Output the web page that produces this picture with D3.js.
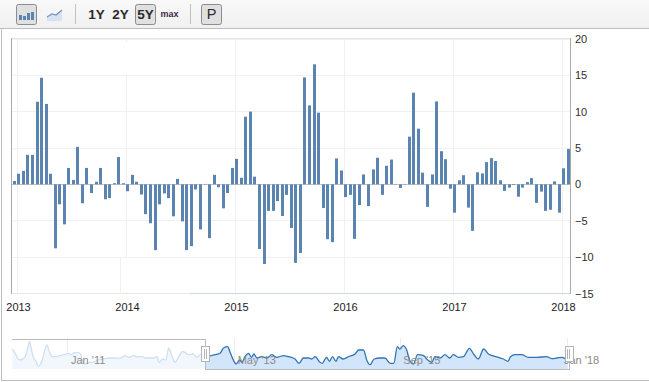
<!DOCTYPE html>
<html><head><meta charset="utf-8">
<script src="https://cdn.jsdelivr.net/npm/d3@7"></script>
<style>
html,body{margin:0;padding:0;background:#fff}
svg{display:block}
text{font-family:"Liberation Sans",Arial,sans-serif}
</style></head><body>
<div id="chart"></div>
<script>
const yearTicks = [2013, 2014, 2015, 2016, 2017, 2018];
const valueTicks = [-15, -10, -5, 0, 5, 10, 15, 20];
const rangeButtons = ["1Y", "2Y", "5Y", "max", "P"];
const barValues = [
  0.4,1.4,1.8,4.0,4.0,11.3,14.6,11.0,1.4,-8.8,-2.75,-5.5,2.2,0.55,5.1,-2.6,2.2,-1.2,0.3,2.2,
  -2.05,-1.9,0.1,3.7,0.1,-0.95,1.25,0.3,-1.4,-4.1,-5.35,-9.05,-2.75,-1.25,-1.9,-4.4,0.7,-5.1,-9.05,-8.5,
  -0.7,-6.2,0,-7.4,1.25,-0.4,-3.3,-1.2,2.2,3.45,0.85,9.25,9.95,1.0,-8.9,-10.95,-3.65,-3.65,-2.3,-4.35,
  -1.45,-6.0,-10.8,-9.45,14.65,10.8,16.45,9.8,-3.25,-7.55,-7.95,3.5,1.85,-1.75,-1.45,-7.5,-2.85,1.3,-3.0,2.0,
  3.6,-1.45,2.5,3.35,0,-0.5,0,6.5,12.55,7.6,1.55,-3.1,1.3,11.35,4.5,3.4,-0.6,-3.9,0.5,1.2,
  -3.2,-6.4,1.6,1.45,3.0,3.55,3.15,0.5,-0.9,-0.45,-0.1,-1.7,-0.45,0.25,0.8,-2.55,-1.0,-3.65,-3.5,0.35,
  -3.9,2.15,4.8
];
const navMonths = [
  -9.2,-8.8,-8.2,-7.8,-7.1,-6.7,-6.3,-6.0,-5.7,-5.2,-4.8,-4.3,-3.9,-3.4,-2.9,-2.5,-1.8,-1.0,-0.4,0.2,
  0.7,1.3,1.8,2.3,2.5,3.1,3.8,4.4,5.2,6.1,6.9,8.0,8.9,9.7,10.4,11.1,11.6,12.5,13.3,13.9,
  14.5,15.1,15.5,16.1,16.6,17.1,17.6,18.2,18.7,19.5,20.4,21.2,21.8,22.4,23.2,23.9,24.9,25.7,26.3,27.0,
  27.4,28.0,28.4,29.0,29.4,29.9,30.5,31.0,31.4,31.9,32.7,33.6,34.4,35.2,36.4,37.2,38.0,38.3,39.0,39.7,
  40.6,41.1,41.7,42.5,42.9,43.6,44.1,44.6,45.2,45.6,46.4,47.3,48.4,49.0,49.8,50.4,50.9,51.6,52.6,53.4,
  54.3,54.9,55.5,55.9,56.5,57.0,57.6,58.2,58.9,59.9,60.6,61.3,61.8,62.7,63.5,64.3,64.9,65.8,66.6,67.6,
  68.3,69.1,70.0,70.8,71.5,72.5,73.3,74.1,74.5,75.3,76.4,77.5,78.9,80.6,81.5,82.3,83.2,84.0
];
const navLevels = [
  20,16.7,10,9,11.7,18.3,27.7,20,12.3,7.7,2.7,6.7,15,24,16.7,12.3,12.3,13.7,14.3,15.7,
  14.3,16.3,16.3,15,10,5,6.7,6.7,9,10,11,11,10.7,13.3,11.7,13.3,12.3,12.3,11,11,
  11,12.3,6.7,10,9,21,13.3,6.7,11.7,17.7,14.3,15,11.7,14.3,11.7,13,14.3,15.7,21,22.3,
  16.7,8.3,5,9,6.7,12.3,15.7,11.7,15,11,12.3,11,14.3,11.7,13.3,12.3,11,10,5.7,11,
  11,10,12.3,6.7,5.7,11.7,7.7,12.3,7.7,12.3,10,12.3,15,19,19,8.3,4.3,10,11,11,
  5.7,5.7,22.3,20,23.3,20,8.3,5,14.3,13.3,9,6.7,12.3,11,14.3,11,14.3,11.7,12.3,20.7,
  15,10,20,15,13.3,11.7,10,7.7,12.3,14.3,14.3,11.7,11.7,12.3,10.3,11,11.7,9
];
const navTickMonths = [0, 28, 56, 84];
const navTickLabels = ["Jan '11", "May '13", "Sep '15", "Jan '18"];
const navLabelShift = [4, 4, 3, -3];
const selectionStartMonth = 23.2;

const W = 649, H = 382;
const svg = d3.select("#chart").append("svg").attr("width", W).attr("height", H);
const defs = svg.append("defs");
const grad = defs.append("linearGradient").attr("id","tb").attr("x1",0).attr("x2",0).attr("y1",0).attr("y2",1);
grad.append("stop").attr("offset",0).attr("stop-color","#f9f9f9");
grad.append("stop").attr("offset",1).attr("stop-color","#f0f0f0");

const crisp = s => s.attr("shape-rendering","crispEdges");

/* toolbar */
svg.append("rect").attr("width",W).attr("height",28).attr("fill","url(#tb)");
svg.append("line").attr("x1",0).attr("x2",W).attr("y1",28.5).attr("y2",28.5).attr("stroke","#bdbdbd").call(crisp);
svg.append("line").attr("x1",1.5).attr("x2",1.5).attr("y1",28).attr("y2",381).attr("stroke","#bdbdbd").call(crisp);
svg.append("line").attr("x1",1).attr("x2",W).attr("y1",380.5).attr("y2",380.5).attr("stroke","#bdbdbd").call(crisp);
[[16.5,20],[135.5,20],[201.5,20]].forEach(b=>{
  svg.append("rect").attr("x",b[0]).attr("y",4.5).attr("width",b[1]).attr("height",20).attr("rx",2)
    .attr("fill","#e0e0e0").attr("stroke","#8c8c8c");
});
[75.5,190.5].forEach(x=>svg.append("line").attr("x1",x).attr("x2",x).attr("y1",4).attr("y2",24).attr("stroke","#c0c0c0").call(crisp));
[[19,5],[23,4],[27,7],[31,8]].forEach(b=>{
  svg.append("rect").attr("x",b[0]).attr("y",20-b[1]).attr("width",3).attr("height",b[1]).attr("fill","#5b84b1");
});
svg.append("path").attr("d","M47 17 L52 14 L56 15 L62 10 L62 21 L47 21 Z").attr("fill","#d6e3f2");
svg.append("path").attr("d","M47 17 L52 14 L56 15 L62 10").attr("fill","none").attr("stroke","#6f95c0").attr("stroke-width",1.2);
const btnX = [96.5, 120.5, 145.5, 169.5, 211.5];
rangeButtons.forEach((t,i)=>{
  svg.append("text").attr("x",btnX[i]).attr("y",t==="max"?17:18.5).attr("text-anchor","middle")
    .attr("font-size",t==="max"?9:t==="P"?14.5:13.5).attr("font-weight",t==="P"?"normal":"bold")
    .attr("fill",t==="max"?"#3a2a4a":"#2a2a2a").text(t);
});

/* scales */
const plot = {l:12, r:570, t:38.5, b:293};
const y = d3.scaleLinear().domain([-15,20]).range([plot.b, plot.t]);
const xYear = d3.scaleLinear().domain([2013,2018]).range([17.5,562.5]);
const xBar = d3.scaleLinear().domain([0,barValues.length-1]).range([14.3,568.3]);
const nav = {t:339, b:369, l:12, r:569};
const xNav = d3.scaleLinear().domain([0,84]).range([67,567]);
const yNav = d3.scaleLinear().domain([0,30]).range([nav.b, nav.t]);

/* grid */
const grid = svg.append("g").call(crisp);
grid.selectAll(".h").data(valueTicks).join("line").attr("class","h")
  .attr("x1",plot.l).attr("x2",plot.r).attr("y1",d=>Math.round(y(d))+.5).attr("y2",d=>Math.round(y(d))+.5)
  .attr("stroke","#f0f0f0");
grid.selectAll(".v").data(yearTicks).join("line").attr("class","v")
  .attr("x1",d=>Math.floor(xYear(d))+.5).attr("x2",d=>Math.floor(xYear(d))+.5)
  .attr("y1",plot.t).attr("y2",plot.b).attr("stroke","#f0f0f0");
/* blank patches seen in the reference */
svg.append("rect").attr("x",20).attr("y",42).attr("width",173).attr("height",33).attr("fill","#fff");
svg.append("rect").attr("x",121).attr("y",258).attr("width",8).attr("height",34).attr("fill","#fff");
svg.append("line").attr("x1",120.5).attr("x2",120.5).attr("y1",258).attr("y2",293).attr("stroke","#f0f0f0").call(crisp);

/* frame */
svg.append("line").attr("x1",11.5).attr("x2",570).attr("y1",38.5).attr("y2",38.5).attr("stroke","#e6e6e6").call(crisp);
svg.append("line").attr("x1",12).attr("x2",190).attr("y1",293.5).attr("y2",293.5).attr("stroke","#e8e8e8").call(crisp);
svg.append("line").attr("x1",190).attr("x2",570).attr("y1",293.5).attr("y2",293.5).attr("stroke","#ccd6e3").call(crisp);
svg.append("line").attr("x1",11.5).attr("x2",11.5).attr("y1",38).attr("y2",294).attr("stroke","#ababab").call(crisp);
svg.append("line").attr("x1",570.5).attr("x2",570.5).attr("y1",38).attr("y2",294).attr("stroke","#ababab").call(crisp);
svg.append("line").attr("x1",12).attr("x2",570).attr("y1",184.5).attr("y2",184.5).attr("stroke","#c4c4c4").call(crisp);

/* bars */
svg.append("g").selectAll("rect").data(barValues).join("rect")
  .attr("x",(d,i)=>Math.round(xBar(i)-1.5))
  .attr("width",3)
  .attr("y",d=>d>=0?y(d):y(0)+0.4)
  .attr("height",d=>Math.abs(y(d)-y(0))+(d>=0?0.4:0))
  .attr("fill","#5b84b1");

/* axes */
const yAxis = d3.axisRight(y).tickValues(valueTicks).tickSize(0).tickPadding(0).tickFormat(d3.format("d"));
const gy = svg.append("g").attr("transform","translate(575,0.5)").call(yAxis);
gy.select(".domain").remove();
gy.selectAll("text").attr("font-size",11).attr("font-family","'Liberation Sans',Arial,sans-serif").attr("fill","#2e2e2e");
const xAxis = d3.axisBottom(xYear).tickValues(yearTicks).tickSize(0).tickPadding(0).tickFormat(d3.format("d"));
const gx = svg.append("g").attr("transform","translate(0.5,303)").call(xAxis);
gx.select(".domain").remove();
gx.selectAll("text").attr("font-size",11).attr("font-family","'Liberation Sans',Arial,sans-serif").attr("fill","#222");

/* navigator */
defs.append("clipPath").attr("id","sel").append("rect").attr("x",xNav(selectionStartMonth)).attr("y",nav.t).attr("width",nav.r-xNav(selectionStartMonth)).attr("height",nav.b-nav.t);
defs.append("clipPath").attr("id","unsel").append("rect").attr("x",nav.l).attr("y",nav.t).attr("width",xNav(selectionStartMonth)-nav.l).attr("height",nav.b-nav.t);
const navData = navMonths.map((m,i)=>[m,navLevels[i]]);
const lineGen = d3.line().x(d=>xNav(d[0])).y(d=>yNav(d[1])).curve(d3.curveMonotoneX);
const areaGen = d3.area().x(d=>xNav(d[0])).y0(nav.b).y1(d=>yNav(d[1])).curve(d3.curveMonotoneX);

svg.append("g").selectAll("line").data(navTickMonths).join("line")
  .attr("x1",d=>Math.round(xNav(d))+.5).attr("x2",d=>Math.round(xNav(d))+.5)
  .attr("y1",nav.t-1).attr("y2",nav.b).attr("stroke","#ececec").call(crisp);

svg.append("path").datum(navData).attr("d",areaGen).attr("fill","#f2f7fd").attr("clip-path","url(#unsel)");
svg.append("path").datum(navData).attr("d",lineGen).attr("fill","none").attr("stroke","#cfe0ef").attr("stroke-width",1.3).attr("clip-path","url(#unsel)");
svg.append("path").datum(navData).attr("d",areaGen).attr("fill","#d3e5fb").attr("clip-path","url(#sel)");
svg.append("path").datum(navData).attr("d",lineGen).attr("fill","none").attr("stroke","#2f74b5").attr("stroke-width",1.3).attr("clip-path","url(#sel)");

svg.append("g").selectAll("text").data(navTickMonths).join("text")
  .attr("x",(d,i)=>xNav(d)+navLabelShift[i]).attr("y",364)
  .attr("font-size",11).attr("fill","#8a8a8a").text((d,i)=>navTickLabels[i]);

const sx = Math.round(xNav(selectionStartMonth))+.5;
const outline = d3.path();
outline.moveTo(nav.l, nav.t+.5); outline.lineTo(sx, nav.t+.5); outline.lineTo(sx, nav.b+.5); outline.lineTo(nav.r, nav.b+.5); outline.lineTo(nav.r, nav.t+7);
svg.append("path").attr("d",outline.toString()).attr("fill","none").attr("stroke","#bcbcbc").call(crisp);
[sx, nav.r].forEach(hx=>{
  svg.append("rect").attr("x",Math.round(hx-4.5)+.5).attr("y",346.5).attr("width",8).attr("height",15).attr("fill","#fff").attr("stroke","#b5b5b5").call(crisp);
  [-1,1].forEach(o=>svg.append("line").attr("x1",Math.round(hx)+o-.5).attr("x2",Math.round(hx)+o-.5).attr("y1",349).attr("y2",359).attr("stroke","#b5b5b5").call(crisp));
});
</script>
</body></html>
